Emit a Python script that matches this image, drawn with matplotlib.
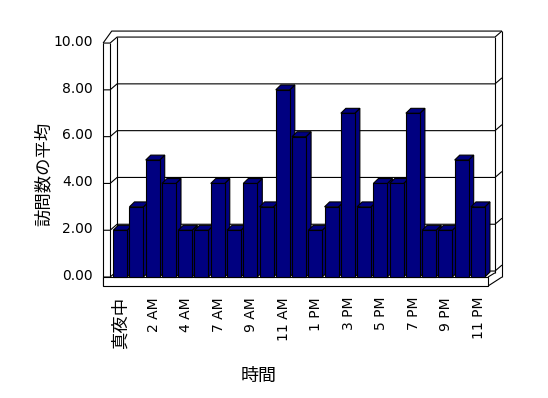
import matplotlib
matplotlib.use("Agg")
import matplotlib.pyplot as plt
from matplotlib.patches import Polygon, Rectangle

plt.rcParams['font.family'] = ['DejaVu Sans', 'Noto Sans CJK JP']

# データ
hours = ['真夜中', '1 AM', '2 AM', '3 AM', '4 AM', '5 AM', '7 AM', '8 AM', '9 AM',
         '10 AM', '11 AM', '正午', '1 PM', '2 PM', '3 PM', '4 PM', '5 PM', '6 PM',
         '7 PM', '8 PM', '9 PM', '10 PM', '11 PM']
visits = [2, 3, 5, 4, 2, 2, 4, 2, 4, 3, 8, 6, 2, 3, 7, 3, 4, 4, 7, 2, 2, 5, 3]
yticks = [0, 2, 4, 6, 8, 10]

navy = '#000080'
lw = 0.8

fig = plt.figure(figsize=(5.48, 3.98), dpi=100)
ax = fig.add_axes([0, 0, 1, 1])
ax.set_xlim(-7.39, 26.31)
ax.set_ylim(-5.17, 11.84)
ax.axis('off')

n = len(visits)
# 3D box geometry (data units)
xl_front, xl_inner, xl_back = -1.05, -0.62, -0.19
xr_back, xr_outer, xr_floor = n + 0.05, n + 0.48, n - 0.38
dy_wall = 0.256
floor_h = 0.385
ymax = yticks[-1]

def line(xs, ys):
    ax.plot(xs, ys, color='black', lw=lw, solid_capstyle='butt', zorder=1)

# back wall gridlines + left connectors + right connectors
for v in yticks:
    line([xl_front, xl_inner, xl_back, xr_back, xr_outer],
         [v, v, v + dy_wall, v + dy_wall, v + 2 * dy_wall])

# walls edges
line([xl_front, xl_front], [-floor_h, ymax])
line([xl_inner, xl_inner], [0, ymax])
line([xl_back, xl_back], [dy_wall, ymax + dy_wall])
line([xl_front, xl_inner + 0.1, xr_outer], [ymax, ymax + 2 * dy_wall, ymax + 2 * dy_wall])
line([xr_back, xr_back], [dy_wall * 0.7, ymax + dy_wall])
line([xr_outer, xr_outer], [0, ymax + 2 * dy_wall])

# floor front face
ax.add_patch(Rectangle((xl_front, -floor_h), xr_floor - xl_front, floor_h,
                       facecolor='white', edgecolor='black', lw=lw, zorder=2))
for k in range(n - 1):
    line([k + 0.5, k + 0.5], [-floor_h, 0])
line([xr_floor, xr_outer], [-floor_h, 0])
line([xr_floor, xr_back], [0, dy_wall * 0.7])

# bars
w = 0.86
bdx, bdy = 0.31, 0.21
for i, v in enumerate(visits):
    x0, x1 = i - w / 2, i + w / 2
    z = 3 + i
    side = Polygon([(x1, 0), (x1, v), (x1 + bdx, v + bdy), (x1 + bdx, bdy)],
                   closed=True, facecolor=navy, edgecolor='black', lw=lw, zorder=z)
    top = Polygon([(x0, v), (x1, v), (x1 + bdx, v + bdy), (x0 + bdx, v + bdy)],
                  closed=True, facecolor=navy, edgecolor='black', lw=lw, zorder=z)
    ax.add_patch(side)
    ax.add_patch(top)
    ax.bar(i, v, width=w, color=navy, edgecolor='black', lw=lw, zorder=z)

# y tick labels
for v in yticks:
    ax.text(-1.67, v + 0.05, f'{v:.2f}', ha='right', va='center', fontsize=10)

# x tick labels (every other)
for i in range(0, n, 2):
    fs = 12.5 if not hours[i].isascii() else 10
    ax.text(i + 0.05, -0.85, hours[i], rotation=90, ha='center', va='top', fontsize=fs)

ax.text(-4.73, 4.41, '訪問数の平均', rotation=90, ha='center', va='center', fontsize=12.5)
ax.text(8.5, -4.24, '時間', ha='center', va='center', fontsize=13)

fig.savefig('out.png', dpi=100)
